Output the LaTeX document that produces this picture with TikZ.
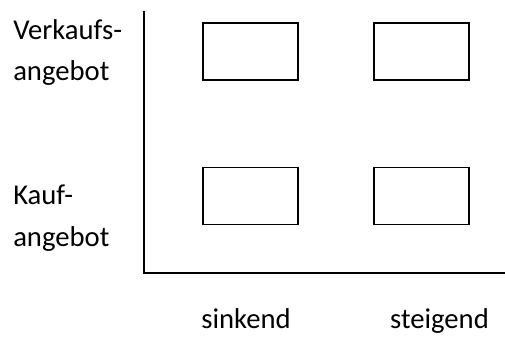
\documentclass[tikz,border=0pt]{standalone}
\usepackage{fontspec}
\setmainfont{Carlito}
\begin{document}
\begin{tikzpicture}[x=0.75pt,y=-0.75pt,
  label/.style={inner sep=0pt,font=\fontsize{21.5}{30.75}\selectfont},
  cell/.style={draw,line width=1.3pt,minimum width=71.25pt,minimum height=42.75pt,inner sep=0pt},
  axis/.style={line width=1.5pt}]
\useasboundingbox (0,0) rectangle (505,338);
% axes
\coordinate (top) at (144,11);
\coordinate (origin) at (144,273);
\coordinate (right) at (506,273);
\draw[axis] (top) -- (origin) -- (right);
% cells
\node[cell] (c11) at (250.5,51.5) {};
\node[cell] (c12) at (421.5,51.5) {};
\node[cell] (c21) at (250.5,196) {};
\node[cell] (c22) at (421.5,196) {};
% row labels
\node[label,anchor=base west] (v1) at (13,40) {Verkaufs-};
\node[label,anchor=base west] (v2) at (13,81) {angebot};
\node[label,anchor=base west] (k1) at (13,204) {Kauf-};
\node[label,anchor=base west] (k2) at (13,246) {angebot};
% column labels
\node[label,anchor=base] (s1) at (246,328) {sinkend};
\node[label,anchor=base] (s2) at (439.5,328) {steigend};
\end{tikzpicture}
\end{document}
